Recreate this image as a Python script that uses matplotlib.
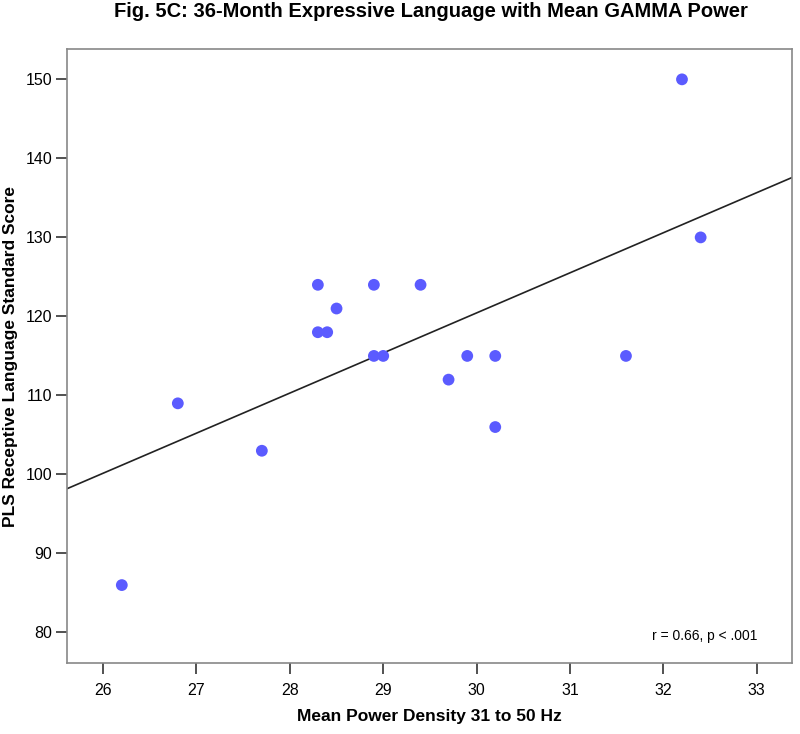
import numpy as np
import matplotlib.pyplot as plt

# mean gamma power (31-50 Hz) vs PLS score
power = [26.2, 26.8, 27.7, 28.3, 28.3, 28.4, 28.5, 28.9, 28.9, 29.0,
         29.4, 29.7, 29.9, 30.2, 30.2, 31.6, 32.2, 32.4]
score = [86, 109, 103, 124, 118, 118, 121, 124, 115, 115,
         124, 112, 115, 115, 106, 115, 150, 130]
x_ticks = [26, 27, 28, 29, 30, 31, 32, 33]
y_ticks = [80, 90, 100, 110, 120, 130, 140, 150]

plt.rcParams['font.family'] = ['Liberation Sans', 'DejaVu Sans']

fig = plt.figure(figsize=(8, 7.34), dpi=100)
ax = fig.add_axes([0.0834, 0.0963, 0.9062, 0.8365])

ax.scatter(power, score, s=72, color='#5b5bff', edgecolors='none', zorder=3)

# least squares fit line across the full x range
xlim = (25.61, 33.375)
slope, intercept = np.polyfit(power, score, 1)
xs = np.array(xlim)
ax.plot(xs, slope * xs + intercept, color='#222222', linewidth=1.2, zorder=2)

ax.set_xlim(*xlim)
ax.set_ylim(76.1, 153.8)
ax.set_xticks(x_ticks)
ax.set_yticks(y_ticks)
ax.tick_params(axis='both', direction='out', length=8, width=1.2,
               color='#333333', labelsize=11.5)
ax.tick_params(axis='x', pad=6)
ax.tick_params(axis='y', pad=2.5)

for sp in ax.spines.values():
    sp.set_color('#888888')
    sp.set_linewidth(1.2)

ax.set_xlabel('Mean Power Density 31 to 50 Hz', fontsize=12.5,
              fontweight='bold', labelpad=8)
ax.set_ylabel('PLS Receptive Language Standard Score', fontsize=12.5,
              fontweight='bold', labelpad=5)
fig.suptitle('Fig. 5C: 36-Month Expressive Language with Mean GAMMA Power',
             fontsize=14.5, fontweight='bold', x=0.539, y=0.984, va='center')

ax.text(0.952, 0.044, 'r = 0.66, p < .001', transform=ax.transAxes,
        ha='right', va='center', fontsize=10)

fig.savefig('out.png', dpi=100)
